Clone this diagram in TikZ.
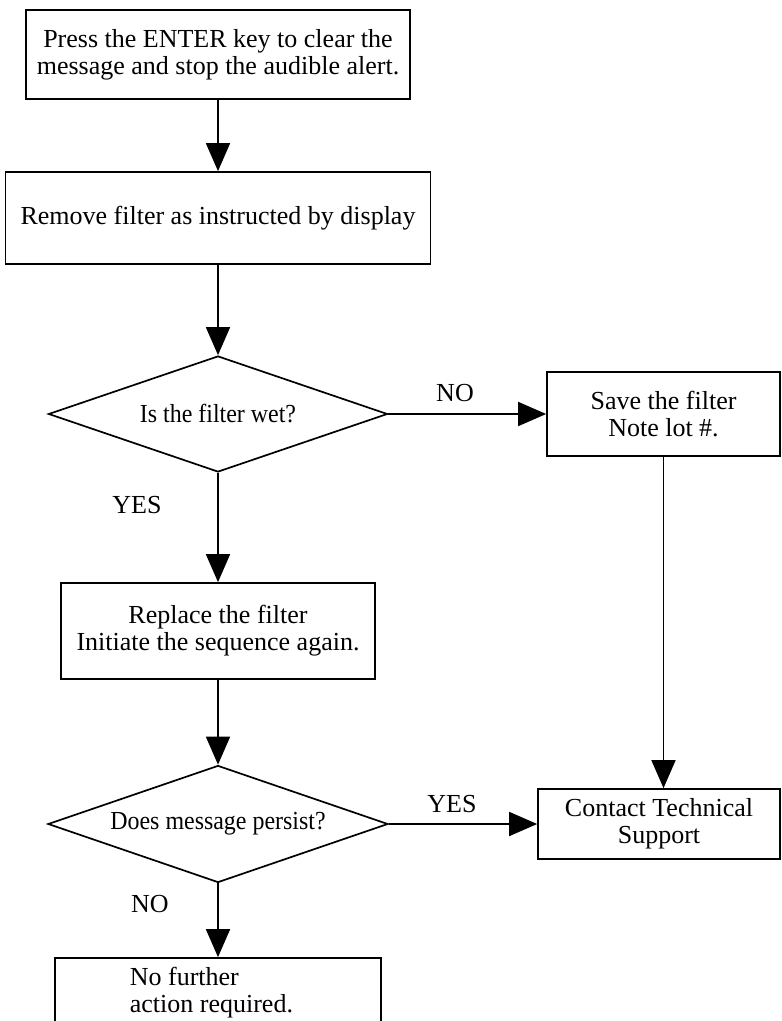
\documentclass[tikz,border=0pt]{standalone}
\usepackage{fontspec}
\setmainfont{Liberation Serif}
\newfontfamily\narrowfont[FakeStretch=0.92]{Liberation Serif}
\usetikzlibrary{shapes.geometric,arrows.meta}

\begin{document}
\begin{tikzpicture}[x=0.5pt, y=-0.5pt, font=\fontsize{13}{13.5}\selectfont, line width=0.85pt,
  box/.style={draw, rectangle, align=center, inner sep=0pt},
  decision/.style={draw, diamond, aspect=2.9, inner sep=0pt, font=\fontsize{13}{13.5}\narrowfont},
  arr/.style={-{Triangle[width=12pt,length=14pt]}}]
  \useasboundingbox (0,0) rectangle (781,1021);
  \clip (0,0) rectangle (781,1021);
  % main column
  \node[box, minimum width=192pt, minimum height=44.5pt] (enter) at (218,54.5)
    {Press the ENTER key to clear the\\message and stop the audible alert.};
  \node[box, minimum width=212.5pt, minimum height=46pt] (remove) at (218,218)
    {Remove filter as instructed by display};
  \node[decision, minimum width=169.5pt, minimum height=58pt] (wet) at (218,414)
    {Is the filter wet?};
  \node[box, minimum width=157pt, minimum height=48pt] (replace) at (218,631)
    {Replace the filter\\Initiate the sequence again.};
  \node[decision, minimum width=170pt, minimum height=58.5pt] (persist) at (218,824)
    {Does message persist?};
  \node[box, minimum width=163pt, minimum height=61pt] (done) at (218,1019) {};
  \node[anchor=north west, align=left, inner sep=0pt] (donetext) at (129,966)
    {No further\\action required.};
  % right column
  \node[box, minimum width=116.5pt, minimum height=42pt] (save) at (663.5,414)
    {Save the filter\\Note lot \#.};
  \node[box, minimum width=121pt, minimum height=35pt] (contact) at (659,824)
    {Contact Technical\\Support};
  % connectors
  \draw[arr] (enter) -- (remove);
  \draw[arr] (remove) -- (wet);
  \draw[arr] (wet) -- (replace);
  \draw[arr] (replace) -- (persist);
  \draw[arr] (persist) -- (done);
  \draw[arr] (wet) -- (save);
  \draw[arr] (persist) -- (contact);
  \draw[arr] (save.south) -- (save.south |- contact.north);
  % branch labels
  \foreach \x/\y/\t [count=\i] in {455/393/NO, 137/505/YES, 452/804/YES, 150/904/NO}
    \node (lbl\i) at (\x,\y) {\t};
\end{tikzpicture}
\end{document}
